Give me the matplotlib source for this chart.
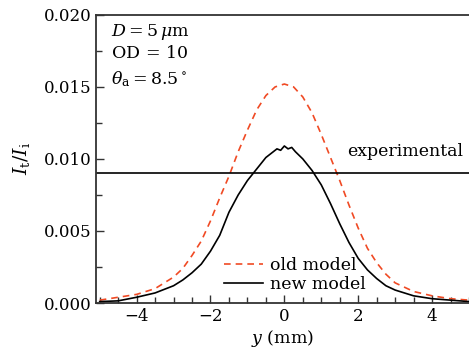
import matplotlib
matplotlib.use("Agg")
import matplotlib.pyplot as plt
from matplotlib.ticker import MultipleLocator

plt.rcParams['font.family'] = 'DejaVu Serif'
plt.rcParams['mathtext.fontset'] = 'dejavuserif'

# old model (dashed red)
y_old = [-5.0, -4.5, -4.0, -3.5, -3.0, -2.75, -2.5, -2.25, -2.0, -1.75, -1.5, -1.25, -1.0,
         -0.75, -0.5, -0.25, 0.0, 0.25, 0.5, 0.75, 1.0, 1.25, 1.5, 1.75, 2.0, 2.25, 2.5,
         2.75, 3.0, 3.5, 4.0, 4.5, 5.0]
i_old = [0.0002, 0.0004, 0.0006, 0.0010, 0.0018, 0.0024, 0.0033, 0.0043, 0.0057, 0.0073,
         0.0088, 0.0105, 0.0120, 0.0134, 0.0144, 0.0150, 0.0152, 0.0150, 0.0143, 0.0132,
         0.0117, 0.0101, 0.0085, 0.0068, 0.0052, 0.0038, 0.0028, 0.0020, 0.0014, 0.0008,
         0.0005, 0.0003, 0.0002]

# new model (solid black)
y_new = [-5.0, -4.5, -4.0, -3.5, -3.0, -2.75, -2.5, -2.25, -2.0, -1.75, -1.5, -1.25, -1.0,
         -0.75, -0.5, -0.3, -0.2, -0.1, 0.0, 0.1, 0.2, 0.3, 0.5, 0.75, 1.0, 1.25, 1.5, 1.75,
         2.0, 2.25, 2.5, 2.75, 3.0, 3.5, 4.0, 4.5, 5.0]
i_new = [0.0001, 0.00015, 0.0004, 0.0007, 0.0012, 0.0016, 0.0021, 0.0027, 0.0036, 0.0047,
         0.0063, 0.0075, 0.0085, 0.0093, 0.0101, 0.0105, 0.0107, 0.0106, 0.0109, 0.0107,
         0.0108, 0.0105, 0.0100, 0.0092, 0.0082, 0.0069, 0.0055, 0.0042, 0.0031, 0.0023,
         0.0017, 0.0012, 0.0009, 0.0005, 0.0003, 0.0002, 0.0001]

experimental = 0.009

fig = plt.figure(figsize=(4.69, 3.54), dpi=100)
ax = fig.add_axes([0.2047, 0.144, 0.7953, 0.814])

ax.plot(y_old, i_old, color='#f04a24', ls=(0, (4, 3)), lw=1.2, label='old model')
ax.plot(y_new, i_new, color='black', lw=1.2, label='new model')
ax.axhline(experimental, color='black', lw=1.2)

ax.set_xlim(-5.1, 5.0)
ax.set_ylim(0, 0.020)
ax.xaxis.set_major_locator(MultipleLocator(2))
ax.xaxis.set_minor_locator(MultipleLocator(0.5))
ax.yaxis.set_major_locator(MultipleLocator(0.005))
ax.yaxis.set_minor_locator(MultipleLocator(0.0025))
ax.yaxis.set_major_formatter(plt.FormatStrFormatter('%.3f'))
ax.tick_params(which='both', direction='in', labelsize=12, width=1.0, color='#333333')
ax.tick_params(which='major', length=6)
ax.tick_params(which='minor', length=4)
ax.spines['right'].set_visible(False)
for s in ['left', 'bottom', 'top']:
    ax.spines[s].set_color('#333333')
    ax.spines[s].set_linewidth(1.3)

ax.set_xlabel('$y$ (mm)', fontsize=12.5, labelpad=2)
ax.set_ylabel(r'$I_\mathrm{t}/I_\mathrm{i}$', fontsize=13.5, labelpad=8)

ax.text(0.04, 0.975, r'$D=5\,\mu$m', transform=ax.transAxes, fontsize=12.5, va='top')
ax.text(0.04, 0.895, 'OD$\,=\,$10', transform=ax.transAxes, fontsize=12.5, va='top')
ax.text(0.04, 0.81, r'$\theta_\mathrm{a}=8.5^\circ$', transform=ax.transAxes, fontsize=12.5, va='top')
ax.text(0.985, 0.498, 'experimental', transform=ax.transAxes, fontsize=12.5, ha='right', va='bottom')

ax.legend(loc='lower left', bbox_to_anchor=(0.3, -0.02), frameon=False, fontsize=12.5,
          handlelength=2.3, handletextpad=0.4, labelspacing=0.1)

fig.savefig('out.png', dpi=100)
